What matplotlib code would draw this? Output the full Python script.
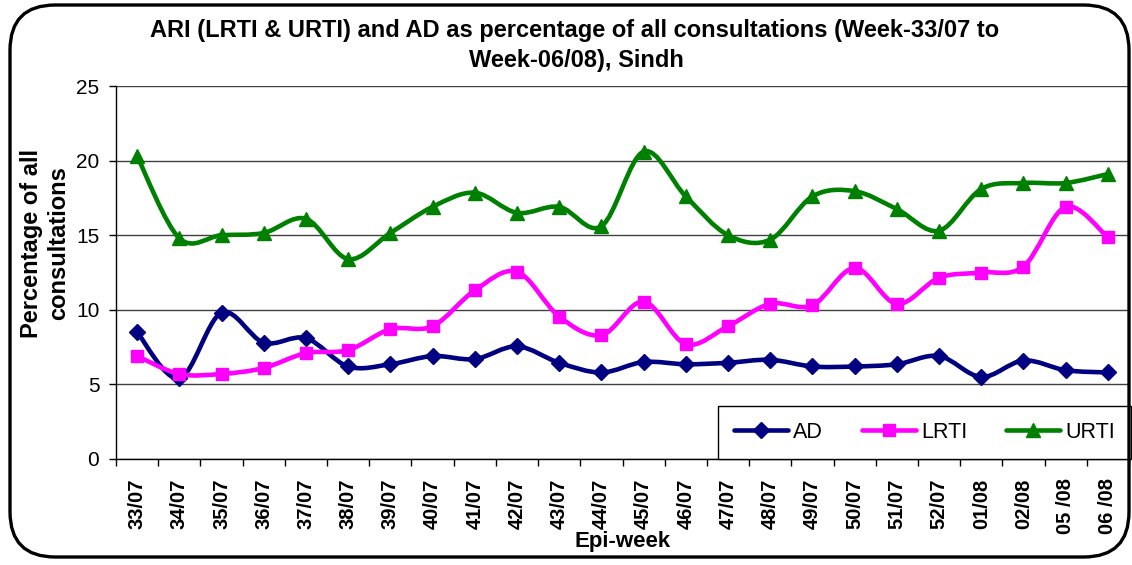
import matplotlib
matplotlib.use("Agg")
import matplotlib.pyplot as plt
import numpy as np
from matplotlib.path import Path
from matplotlib.patches import PathPatch, FancyBboxPatch
from matplotlib.lines import Line2D

plt.rcParams['font.family'] = ['Liberation Sans', 'DejaVu Sans']

weeks = ["33/07", "34/07", "35/07", "36/07", "37/07", "38/07", "39/07", "40/07",
         "41/07", "42/07", "43/07", "44/07", "45/07", "46/07", "47/07", "48/07",
         "49/07", "50/07", "51/07", "52/07", "01/08", "02/08", "05 /08", "06 /08"]
ad = [8.5, 5.4, 9.8, 7.8, 8.1, 6.2, 6.35, 6.9, 6.7, 7.55, 6.45, 5.8,
      6.5, 6.35, 6.45, 6.65, 6.2, 6.2, 6.35, 6.9, 5.5, 6.6, 5.95, 5.8]
lrti = [6.9, 5.7, 5.7, 6.1, 7.1, 7.3, 8.7, 8.9, 11.3, 12.55, 9.55, 8.3,
        10.55, 7.7, 8.9, 10.4, 10.3, 12.8, 10.4, 12.15, 12.5, 12.9, 16.9, 14.85]
urti = [20.3, 14.8, 15.0, 15.15, 16.1, 13.4, 15.15, 16.9, 17.85, 16.5, 16.9, 15.6,
        20.6, 17.6, 15.0, 14.7, 17.6, 17.95, 16.75, 15.3, 18.1, 18.5, 18.5, 19.1]

series = [("AD", ad, "#000080", "D", 8.5),
          ("LRTI", lrti, "#FF00FF", "s", 9),
          ("URTI", urti, "#008000", "^", 10.5)]

W, H = 1132, 565
fig = plt.figure(figsize=(W / 100, H / 100), dpi=100)
ax = fig.add_axes([116 / W, 1 - 459 / H, (1129 - 116) / W, (459 - 86) / H])


def smooth_path(xs, ys):
    xs = np.asarray(xs, float)
    ys = np.asarray(ys, float)
    n = len(xs)
    verts = [(xs[0], ys[0])]
    codes = [Path.MOVETO]
    for i in range(n - 1):
        x0, y0 = (xs[i - 1], ys[i - 1]) if i > 0 else (xs[i], ys[i])
        x1, y1 = xs[i], ys[i]
        x2, y2 = xs[i + 1], ys[i + 1]
        x3, y3 = (xs[i + 2], ys[i + 2]) if i + 2 < n else (xs[i + 1], ys[i + 1])
        c1 = (x1 + (x2 - x0) / 6, y1 + (y2 - y0) / 6)
        c2 = (x2 - (x3 - x1) / 6, y2 - (y3 - y1) / 6)
        verts += [c1, c2, (x2, y2)]
        codes += [Path.CURVE4] * 3
    return Path(verts, codes)


x = np.arange(len(weeks))
handles = []
for name, vals, col, mk, ms in series:
    p = PathPatch(smooth_path(x, vals), facecolor='none', edgecolor=col,
                  lw=3.3, capstyle='round', joinstyle='round', zorder=3)
    ax.add_patch(p)
    ax.plot(x, vals, linestyle='none', marker=mk, color=col, markersize=ms,
            markeredgecolor=col, zorder=4)
    handles.append(Line2D([], [], color=col, lw=3.3, marker=mk, markersize=ms,
                          solid_capstyle='round', label=name))

ax.set_xlim(-0.5, len(weeks) - 0.5)
ax.set_ylim(0, 25)
ax.set_yticks([0, 5, 10, 15, 20, 25])
ax.yaxis.grid(True, color='#404040', lw=1)
ax.set_axisbelow(True)
ax.set_xticks(x)
ax.set_xticklabels(weeks, rotation=90, fontweight='bold', fontsize=14.5)
ax.set_xticks(np.arange(len(weeks) + 1) - 0.5, minor=True)
ax.tick_params(axis='x', which='major', length=0, pad=14)
ax.tick_params(axis='x', which='minor', length=5, width=1, color='black', direction='out')
ax.tick_params(axis='y', length=5, width=1, color='black', labelsize=15, pad=7)
for s in ['top', 'right']:
    ax.spines[s].set_visible(False)
for s in ['left', 'bottom']:
    ax.spines[s].set_color('black')
    ax.spines[s].set_linewidth(1)

leg = ax.legend(handles=handles, loc='lower right', bbox_to_anchor=(1.002, 0.0),
                bbox_transform=ax.transAxes, ncol=3, frameon=True, fancybox=False,
                edgecolor='black', framealpha=1, borderaxespad=0, handlelength=2.5,
                fontsize=15.5, columnspacing=1.8, handletextpad=0.25,
                borderpad=0.75)
leg.get_frame().set_linewidth(1)
leg.set_zorder(5)

fig.text(575 / W, 1 - 30 / H, "ARI (LRTI & URTI) and AD as percentage of all consultations (Week-33/07 to",
         ha='center', va='center', fontsize=17, fontweight='bold')
fig.text(576 / W, 1 - 61 / H, "Week-06/08), Sindh",
         ha='center', va='center', fontsize=17, fontweight='bold')
fig.text(45 / W, 1 - 243 / H, "Percentage of all\nconsultations", rotation=90,
         ha='center', va='center', fontsize=17, fontweight='bold', linespacing=1.2)
fig.text(623 / W, 1 - 542 / H, "Epi-week", ha='center', va='center',
         fontsize=16, fontweight='bold')

border = FancyBboxPatch((10 / W, 8 / H), (1129 - 10) / W, (560 - 8) / H,
                        boxstyle="round,pad=0,rounding_size=0.04",
                        transform=fig.transFigure, facecolor='none',
                        edgecolor='black', lw=2.4, mutation_aspect=W / H)
fig.patches.append(border)

fig.savefig("out.png", dpi=100)
